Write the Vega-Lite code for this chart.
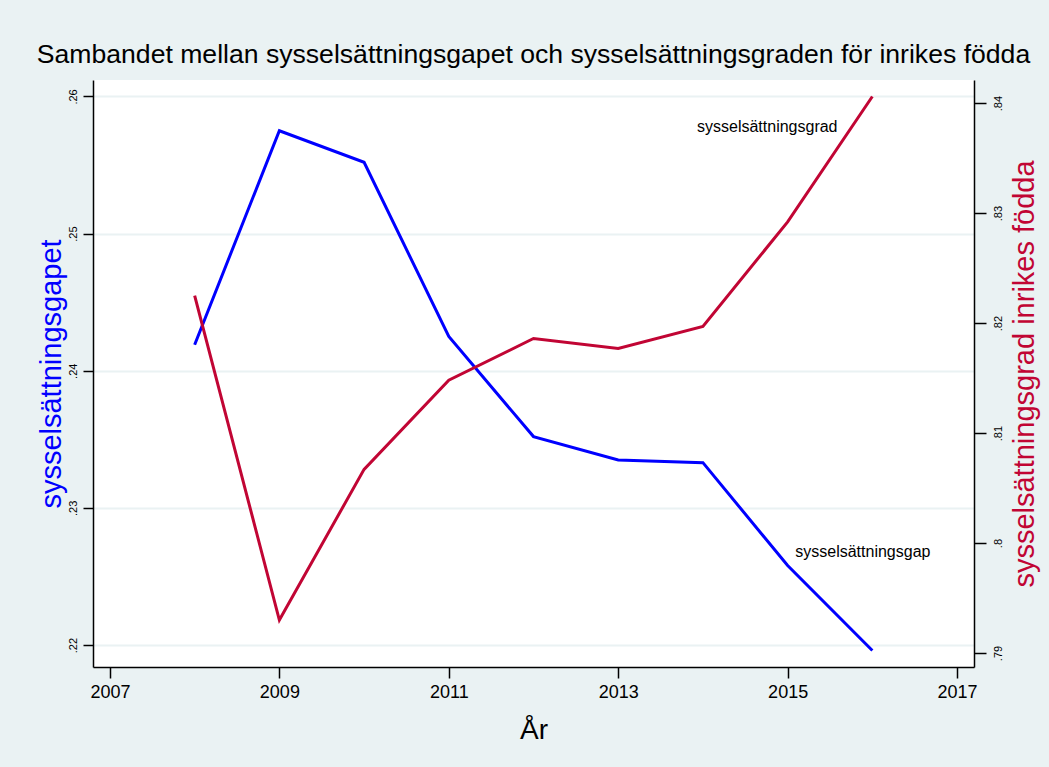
{
  "$schema": "https://vega.github.io/schema/vega-lite/v6.json",
  "autosize": {"type": "none"},
  "width": 881,
  "height": 587,
  "padding": {"left": 93, "top": 80, "right": 75, "bottom": 100},
  "background": "#eaf2f3",
  "config": {
    "view": {"fill": "white", "stroke": null},
    "font": "Liberation Sans",
    "axis": {"domainColor": "black", "domainWidth": 1.5, "tickColor": "black", "tickWidth": 1.5, "labelColor": "black", "titleFontWeight": "normal"}
  },
  "title": {"text": "Sambandet mellan sysselsättningsgapet och sysselsättningsgraden för inrikes födda", "fontSize": 26.6, "fontWeight": "normal", "font": "Liberation Sans", "color": "black", "offset": 11, "anchor": "middle"},
  "datasets": {
    "main": [
      {"year": 2008, "gap": 0.2419, "grad": 0.8225},
      {"year": 2009, "gap": 0.2575, "grad": 0.7930},
      {"year": 2010, "gap": 0.2552, "grad": 0.8067},
      {"year": 2011, "gap": 0.2425, "grad": 0.8148},
      {"year": 2012, "gap": 0.2352, "grad": 0.8186},
      {"year": 2013, "gap": 0.2335, "grad": 0.8177},
      {"year": 2014, "gap": 0.2333, "grad": 0.8197},
      {"year": 2015, "gap": 0.2258, "grad": 0.8292},
      {"year": 2016, "gap": 0.2196, "grad": 0.8406}
    ]
  },
  "encoding": {
    "x": {
      "field": "year", "type": "quantitative",
      "scale": {"domain": [2006.8, 2017.2], "nice": false, "zero": false},
      "axis": {"values": [2007, 2009, 2011, 2013, 2015, 2017], "format": "d", "grid": false, "title": "År", "titleFontSize": 28, "titleColor": "black", "titleBaseline": "alphabetic", "titleY": 71, "labelFontSize": 18, "labelPadding": 5, "tickSize": 11}
    }
  },
  "layer": [
    {
      "layer": [
        {
          "data": {"name": "main"},
          "mark": {"type": "line", "color": "#0000ff", "strokeWidth": 3},
          "encoding": {
            "y": {
              "field": "gap", "type": "quantitative",
              "scale": {"domain": [0.2184, 0.2612], "nice": false, "zero": false},
              "axis": {"orient": "left", "values": [0.22, 0.23, 0.24, 0.25, 0.26], "labelExpr": "substring(format(datum.value, '.2~f'), 1)", "labelAngle": -90, "labelAlign": "center", "labelBaseline": "bottom", "labelFontSize": 11, "labelPadding": 5, "tickSize": 10, "grid": true, "gridColor": "#eaf2f3", "gridWidth": 2, "title": "sysselsättningsgapet", "titleColor": "#0000ff", "titleFontSize": 29, "titleAngle": -90, "titleAlign": "center", "titleBaseline": "alphabetic", "titleX": -33, "titleY": 293.5}
            }
          }
        },
        {
          "data": {"values": [{"year": 2015.09, "gap": 0.2268, "label": "sysselsättningsgap"}]},
          "mark": {"type": "text", "align": "left", "baseline": "middle", "fontSize": 16, "color": "black"},
          "encoding": {
            "y": {"field": "gap", "type": "quantitative"},
            "text": {"field": "label"}
          }
        }
      ]
    },
    {
      "layer": [
        {
          "data": {"name": "main"},
          "mark": {"type": "line", "color": "#c10534", "strokeWidth": 3},
          "encoding": {
            "y": {
              "field": "grad", "type": "quantitative",
              "scale": {"domain": [0.78873, 0.8421], "nice": false, "zero": false},
              "axis": {"orient": "right", "values": [0.79, 0.8, 0.81, 0.82, 0.83, 0.84], "labelExpr": "substring(format(datum.value, '.2~f'), 1)", "labelAngle": -90, "labelAlign": "center", "labelBaseline": "top", "labelFontSize": 11, "labelPadding": 6, "tickSize": 12, "grid": false, "title": "sysselsättningsgrad inrikes födda", "titleColor": "#c10534", "titleFontSize": 29, "titleAngle": -90, "titleAlign": "center", "titleBaseline": "alphabetic", "titleX": 59, "titleY": 293.5}
            }
          }
        },
        {
          "data": {"values": [{"year": 2013.93, "grad": 0.8378, "label": "sysselsättningsgrad"}]},
          "mark": {"type": "text", "align": "left", "baseline": "middle", "fontSize": 16, "color": "black"},
          "encoding": {
            "y": {"field": "grad", "type": "quantitative"},
            "text": {"field": "label"}
          }
        }
      ]
    }
  ],
  "resolve": {"scale": {"y": "independent"}, "axis": {"y": "independent"}}
}
